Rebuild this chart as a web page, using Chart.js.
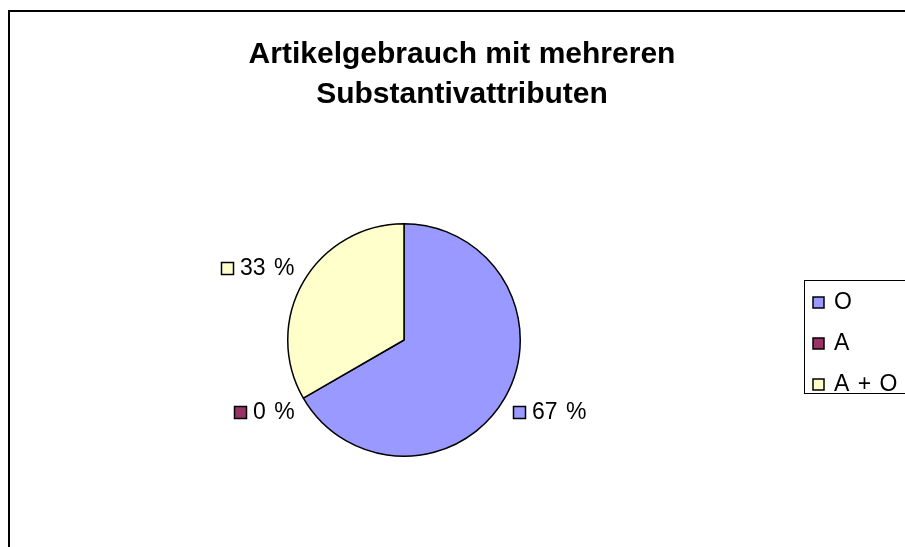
<!DOCTYPE html>
<html>
<head>
<meta charset="utf-8">
<script src="https://cdn.jsdelivr.net/npm/chart.js@4"></script>
<style>
  html, body { margin: 0; padding: 0; background: #fff; overflow: hidden; }
  #wrap { position: relative; width: 905px; height: 547px; }
  #frame { position: absolute; left: 8px; top: 10px; width: 920px; height: 560px; border: 2px solid #000; box-sizing: border-box; }
  canvas { position: absolute; left: 0; top: 0; }
</style>
</head>
<body>
<div id="wrap">
  <div id="frame"></div>
  <canvas id="pieChart" width="905" height="547"></canvas>
</div>
<script>
// Data
const categories = ['O', 'A', 'A + O'];
const values = [2, 0, 1];
const sliceColors = ['#9999FF', '#993366', '#FFFFCC'];
const titleLines = ['Artikelgebrauch mit mehreren', 'Substantivattributen'];

const font = "'Liberation Sans', Arial, sans-serif";

// Title, outside percentage labels and the boxed legend
const excelLook = {
  id: 'excelLook',
  afterDraw(chart) {
    const ctx = chart.ctx;
    const meta = chart.getDatasetMeta(0);
    const total = values.reduce((a, b) => a + b, 0);
    ctx.save();

    // title
    ctx.fillStyle = '#000';
    ctx.textAlign = 'center';
    ctx.textBaseline = 'middle';
    ctx.font = 'bold 30px ' + font;
    titleLines.forEach((t, i) => ctx.fillText(t, 462, 55 + i * 40));

    // data labels (old Excel renders the spaces a bit wide)
    ctx.font = '23px ' + font;
    ctx.wordSpacing = '2px';
    ctx.textAlign = 'left';
    meta.data.forEach((arc, i) => {
      const mid = (arc.startAngle + arc.endAngle) / 2;
      const dx = Math.cos(mid), dy = Math.sin(mid);
      const ax = arc.x + (arc.outerRadius + 10) * dx;
      const ay = arc.y + (arc.outerRadius + 10) * dy;
      const text = Math.round(values[i] / total * 100) + ' %';
      const w = 12 + 7 + ctx.measureText(text).width;
      const left = Math.round(dx >= 0 ? ax : ax - w);
      const cy = Math.round(dy >= 0 ? ay + 9 : ay - 9);
      ctx.fillStyle = sliceColors[i];
      ctx.fillRect(left + 0.5, cy - 5.5, 12, 12);
      ctx.strokeStyle = '#000';
      ctx.lineWidth = 1.5;
      ctx.strokeRect(left + 0.5, cy - 5.5, 12, 12);
      ctx.fillStyle = '#000';
      ctx.fillText(text, left + 19, cy + 1);
    });

    // legend
    ctx.strokeStyle = '#000';
    ctx.lineWidth = 1;
    ctx.strokeRect(804.5, 280.5, 200, 113);
    ctx.lineWidth = 1.5;
    categories.forEach((c, i) => {
      const cy = 302 + i * 41;
      ctx.fillStyle = sliceColors[i];
      ctx.fillRect(813, cy - 5, 11, 11);
      ctx.strokeRect(813, cy - 5, 11, 11);
      ctx.fillStyle = '#000';
      ctx.fillText(c, 834, cy + 1);
    });
    ctx.restore();
  }
};

new Chart(document.getElementById('pieChart'), {
  type: 'pie',
  data: {
    labels: categories,
    datasets: [{
      data: values,
      backgroundColor: sliceColors,
      borderColor: '#000',
      borderWidth: 1.5
    }]
  },
  options: {
    responsive: false,
    animation: false,
    layout: { padding: { left: 254, right: 351, top: 223, bottom: 90 } },
    plugins: {
      legend: { display: false },
      title: { display: false },
      tooltip: { enabled: false }
    }
  },
  plugins: [excelLook]
});
</script>
</body>
</html>
